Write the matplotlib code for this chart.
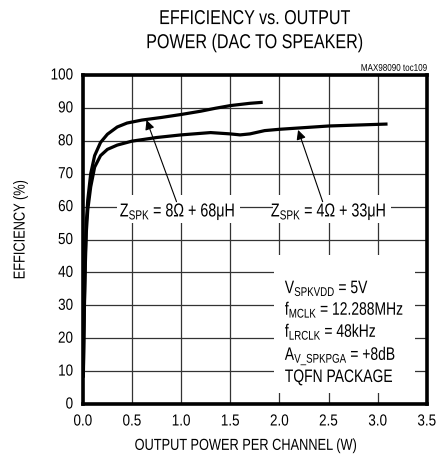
import numpy as np
import matplotlib.pyplot as plt
from matplotlib import patheffects
from matplotlib.transforms import Affine2D

# ------------------------------------------------------------------ DATA
p_8ohm = [0.005, 0.015, 0.025, 0.035, 0.05, 0.08, 0.12, 0.18, 0.25, 0.35,
          0.45, 0.6, 0.8, 1.0, 1.2, 1.35, 1.5, 1.7, 1.83]
eff_8ohm = [10, 30, 45, 55, 62, 70, 75.5, 79.5, 82, 84.2,
            85.4, 86.3, 87.1, 88, 89, 89.9, 90.7, 91.4, 91.7]

p_4ohm = [0.005, 0.015, 0.025, 0.035, 0.05, 0.08, 0.12, 0.18, 0.25, 0.35,
          0.5, 0.75, 1.0, 1.3, 1.5, 1.6, 1.7, 1.85, 2.0, 2.5, 3.1]
eff_4ohm = [8, 28, 42, 52, 59, 66, 72, 75.5, 77.4, 78.7, 79.9, 81.0, 81.8,
            82.5, 82.1, 81.8, 82.1, 83.1, 83.5, 84.5, 85.1]

x_ticks = [0.0, 0.5, 1.0, 1.5, 2.0, 2.5, 3.0, 3.5]
y_ticks = [0, 10, 20, 30, 40, 50, 60, 70, 80, 90, 100]


# ---------------------------- tall text = condensed look of the original
class Tall(patheffects.AbstractPathEffect):
    def __init__(self, sy):
        super().__init__()
        self.sy = sy

    def draw_path(self, renderer, gc, tpath, affine, rgbFace=None):
        renderer.draw_path(gc, tpath, Affine2D().scale(1, self.sy) + affine,
                           rgbFace)


fam = 'Liberation Sans'
plt.rcParams['font.family'] = [fam, 'DejaVu Sans']
plt.rcParams['mathtext.fontset'] = 'custom'
plt.rcParams['mathtext.rm'] = fam
plt.rcParams['mathtext.it'] = fam

# --------------------------------------------------------------- FIGURE
fig = plt.figure(figsize=(4.36, 4.63), dpi=100)
ax = fig.add_axes([0.190, 0.1274, 0.789, 0.7106])

ax.set_xlim(0, 3.5)
ax.set_ylim(0, 100)
ax.set_xticks(x_ticks)
ax.set_yticks(y_ticks)
ax.set_xticklabels([f'{v:.1f}' for v in x_ticks])
ax.tick_params(length=0, labelsize=9.7, pad=7)
ax.tick_params(axis='x', pad=9)
plt.setp(ax.get_xticklabels() + ax.get_yticklabels(),
         path_effects=[Tall(1.19)])
ax.grid(True, color='#333333', linewidth=0.9)
ax.set_axisbelow(True)
for s in ax.spines.values():
    s.set_linewidth(2.6)

# white areas that interrupt the grid behind the texts
white = dict(facecolor='white', edgecolor='none', zorder=1.5)
ax.add_patch(plt.Rectangle((1.95, 3.3), 1.43, 42, **white))
ax.add_patch(plt.Rectangle((0.346, 55), 1.25, 8.5, **white))
ax.add_patch(plt.Rectangle((1.933, 55), 1.2, 8.5, **white))

ax.plot(p_8ohm, eff_8ohm, color='black', lw=2.3, zorder=3,
        solid_capstyle='butt')
ax.plot(p_4ohm, eff_4ohm, color='black', lw=2.3, zorder=3,
        solid_capstyle='butt')

# curve labels
lbl = dict(ha='center', va='baseline', fontsize=10.3, zorder=4,
           path_effects=[Tall(1.31)])
ax.text(0.963, 57, r'Z$_{\mathrm{SPK}}$ = 8Ω + 68μH', **lbl)
ax.text(2.50, 57, r'Z$_{\mathrm{SPK}}$ = 4Ω + 33μH', **lbl)

arr = dict(arrowstyle='-|>', color='black', lw=0.8, mutation_scale=14,
           shrinkA=0, shrinkB=0)
ax.annotate('', xy=(0.648, 86.3), xytext=(0.953, 61.5), arrowprops=arr,
            zorder=4)
ax.annotate('', xy=(2.19, 83.3), xytext=(2.44, 61.5), arrowprops=arr,
            zorder=4)

# conditions
cond = [r'V$_{\mathrm{SPKVDD}}$ = 5V',
        r'f$_{\mathrm{MCLK}}$ = 12.288MHz',
        r'f$_{\mathrm{LRCLK}}$ = 48kHz',
        r'A$_{\mathrm{V\_SPKPGA}}$ = +8dB',
        'TQFN PACKAGE']
cond_y = [33.7, 27.1, 20.4, 13.4, 6.7]
for s, yy in zip(cond, cond_y):
    ax.text(2.055, yy, s, ha='left', va='baseline', fontsize=10, zorder=4,
            path_effects=[Tall(1.3)])

ax.set_xlabel('OUTPUT POWER PER CHANNEL (W)', fontsize=9.2,
              path_effects=[Tall(1.25)])
ax.xaxis.set_label_coords(0.471, -0.112)
ax.set_ylabel('EFFICIENCY (%)', fontsize=9.2,
              path_effects=[Tall(1.25)])
ax.yaxis.label.set_va('center')
ax.yaxis.set_label_coords(-0.178, 0.529)

ttl = dict(ha='center', va='baseline', fontsize=11.6,
           path_effects=[Tall(1.25)])
fig.text(0.585, 0.948, 'EFFICIENCY vs. OUTPUT', **ttl)
fig.text(0.585, 0.896, 'POWER (DAC TO SPEAKER)', **ttl)
fig.text(0.979, 0.847, 'MAX98090 toc109', ha='right', va='baseline',
         fontsize=5.8, path_effects=[Tall(1.22)])

fig.savefig('out.png', dpi=100)
